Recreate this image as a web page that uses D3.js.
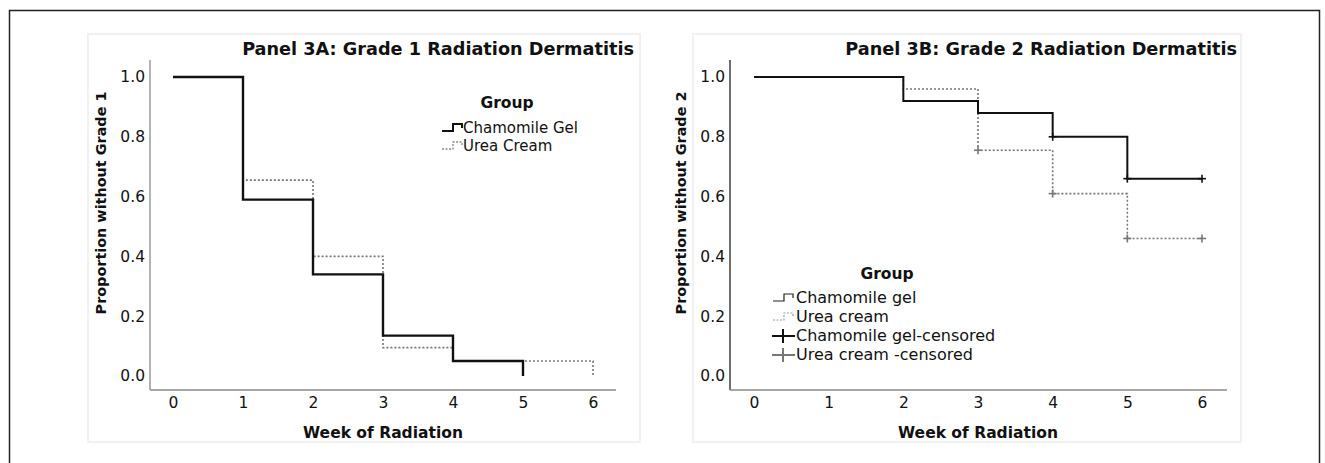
<!DOCTYPE html>
<html>
<head>
<meta charset="utf-8">
<script src="https://cdn.jsdelivr.net/npm/d3@7"></script>
<style>
  html, body { margin: 0; padding: 0; background: #fff; }
  svg { display: block; font-family: "DejaVu Sans", Verdana, sans-serif; }
</style>
</head>
<body>
<svg id="chart" width="1325" height="463"></svg>
<script>
// ---------- data ----------
const weekTicks = [0, 1, 2, 3, 4, 5, 6];
const propTicks = [0.0, 0.2, 0.4, 0.6, 0.8, 1.0];

// Panel 3A (Grade 1) - step curves: event times and survival after each time
const aChamTimes = [0, 1, 2, 3, 4, 5];
const aChamSurv  = [1.0, 0.59, 0.34, 0.135, 0.05, 0.0];
const aUreaTimes = [0, 1, 2, 3, 4, 6];
const aUreaSurv  = [1.0, 0.655, 0.40, 0.095, 0.05, 0.0];

// Panel 3B (Grade 2)
const bChamTimes = [0, 2, 3, 4, 5, 6];
const bChamSurv  = [1.0, 0.92, 0.88, 0.80, 0.66, 0.66];
const bChamCensor = [4, 5, 6];
const bUreaTimes = [0, 2, 3, 4, 5, 6];
const bUreaSurv  = [1.0, 0.96, 0.755, 0.61, 0.46, 0.46];
const bUreaCensor = [3, 4, 5, 6];

const titleA = "Panel 3A: Grade 1 Radiation Dermatitis";
const titleB = "Panel 3B: Grade 2 Radiation Dermatitis";
const yTitleA = "Proportion without Grade 1";
const yTitleB = "Proportion without Grade 2";
const xTitle = "Week of Radiation";
const legendTitle = "Group";
const legendA = ["Chamomile Gel", "Urea Cream"];
const legendB = ["Chamomile gel", "Urea cream", "Chamomile gel-censored", "Urea cream -censored"];

// ---------- drawing ----------
const svg = d3.select("#chart");
const FONT = "DejaVu Sans";

// outer frame
svg.append("rect").attr("x", 9.5).attr("y", 10.5).attr("width", 1310).attr("height", 520)
  .attr("fill", "none").attr("stroke", "#222").attr("stroke-width", 1.5);

function fit(sel, target) {
  const w = sel.node().getComputedTextLength();
  const fs = parseFloat(sel.attr("font-size"));
  sel.attr("font-size", (fs * target / w).toFixed(2));
  return sel;
}

function panel(cfg) {
  const g = svg.append("g");
  // panel background frame
  g.append("rect").attr("x", cfg.bg[0]).attr("y", 34).attr("width", cfg.bg[1] - cfg.bg[0]).attr("height", 408)
    .attr("fill", "#fff").attr("stroke", "#f1f1f1").attr("stroke-width", 2);

  const x = d3.scaleLinear().domain([0, 6]).range(cfg.xr);
  const y = d3.scaleLinear().domain([0, 1]).range([376, 77]);

  // axes lines
  g.append("line").attr("x1", cfg.axX).attr("x2", cfg.axX).attr("y1", 60).attr("y2", 390)
    .attr("stroke", cfg.yAxisColor).attr("stroke-width", 1.3);
  g.append("line").attr("x1", cfg.axX).attr("x2", cfg.axXEnd).attr("y1", 390).attr("y2", 390)
    .attr("stroke", "#8a8a8a").attr("stroke-width", 1.5);

  // y axis labels
  const ya = g.append("g").attr("transform", `translate(${cfg.axX},0)`)
    .call(d3.axisLeft(y).tickValues(propTicks).tickFormat(d3.format(".1f")).tickSize(0).tickPadding(5));
  ya.select(".domain").remove();
  ya.selectAll("text").attr("font-family", FONT).attr("font-size", 15.5).attr("fill", "#111");

  // x axis labels
  const xa = g.append("g").attr("transform", `translate(0,390)`)
    .call(d3.axisBottom(x).tickValues(weekTicks).tickFormat(d3.format("d")).tickSize(0).tickPadding(7));
  xa.select(".domain").remove();
  xa.selectAll("text").attr("font-family", FONT).attr("font-size", 15.5).attr("fill", "#111");

  // titles
  const t = g.append("text").attr("x", cfg.titleEnd).attr("y", 55).attr("text-anchor", "end")
    .attr("font-family", FONT).attr("font-weight", "bold").attr("font-size", 17).attr("fill", "#111")
    .text(cfg.title);
  fit(t, 392);

  const xt = g.append("text").attr("x", x(3)).attr("y", 438).attr("text-anchor", "middle")
    .attr("font-family", FONT).attr("font-weight", "bold").attr("font-size", 15).attr("fill", "#111")
    .text(xTitle);
  fit(xt, 160);

  const yt = g.append("text").attr("transform", `translate(${cfg.yTitleX},203) rotate(-90)`)
    .attr("text-anchor", "middle")
    .attr("font-family", FONT).attr("font-weight", "bold").attr("font-size", 15).attr("fill", "#111")
    .text(cfg.yTitle);
  fit(yt, 223);

  const line = d3.line().x(d => x(d[0])).y(d => y(d[1])).curve(d3.curveStepAfter);

  cfg.series.forEach(s => {
    const pts = s.times.map((tm, i) => [tm, s.surv[i]]);
    g.append("path").attr("d", line(pts)).attr("fill", "none")
      .attr("stroke", s.color).attr("stroke-width", s.width)
      .attr("stroke-dasharray", s.dash || null);
    if (s.censor) {
      s.censor.forEach(c => {
        let v = s.surv[0];
        s.times.forEach((tm, i) => { if (tm <= c) v = s.surv[i]; });
        const cx = x(c), cy = y(v);
        g.append("line").attr("x1", cx - 4).attr("x2", cx + 4).attr("y1", cy).attr("y2", cy)
          .attr("stroke", s.color).attr("stroke-width", 1.6);
        g.append("line").attr("x1", cx).attr("x2", cx).attr("y1", cy - 4).attr("y2", cy + 4)
          .attr("stroke", s.color).attr("stroke-width", 1.6);
      });
    }
  });
  return g;
}

panel({
  bg: [88, 640], xr: [173, 593], axX: 150, axXEnd: 616, yAxisColor: "#8a8a8a",
  title: titleA, titleEnd: 634, yTitle: yTitleA, yTitleX: 106,
  series: [
    { times: aUreaTimes, surv: aUreaSurv, color: "#777", width: 1.6, dash: "2,2" },
    { times: aChamTimes, surv: aChamSurv, color: "#111", width: 2.4 }
  ]
});

panel({
  bg: [693, 1241], xr: [754, 1202], axX: 730, axXEnd: 1227, yAxisColor: "#222",
  title: titleB, titleEnd: 1237, yTitle: yTitleB, yTitleX: 686,
  series: [
    { times: bUreaTimes, surv: bUreaSurv, color: "#777", width: 1.6, dash: "2,2", censor: bUreaCensor },
    { times: bChamTimes, surv: bChamSurv, color: "#111", width: 2, censor: bChamCensor }
  ]
});

// ---------- legends ----------
function stepSym(g, x0, yc, color, width, dash) {
  g.append("path")
    .attr("d", `M${x0},${yc + 3}H${x0 + 11}V${yc - 4}H${x0 + 20}V${yc}`)
    .attr("fill", "none").attr("stroke", color).attr("stroke-width", width)
    .attr("stroke-dasharray", dash || null);
}
function plusSym(g, x0, yc, color) {
  g.append("line").attr("x1", x0).attr("x2", x0 + 23).attr("y1", yc).attr("y2", yc)
    .attr("stroke", color).attr("stroke-width", 2);
  g.append("line").attr("x1", x0 + 11).attr("x2", x0 + 11).attr("y1", yc - 7).attr("y2", yc + 7)
    .attr("stroke", color).attr("stroke-width", 2);
}

// Legend A
const lA = svg.append("g");
lA.append("text").attr("x", 507).attr("y", 108).attr("text-anchor", "middle")
  .attr("font-family", FONT).attr("font-weight", "bold").attr("font-size", 15.5).attr("fill", "#111")
  .text(legendTitle);
legendA.forEach((name, i) => {
  const yc = 128 + i * 18;
  if (i === 0) stepSym(lA, 442, yc, "#111", 2);
  else stepSym(lA, 442, yc, "#888", 1.3, "2,1.5");
  lA.append("text").attr("x", 463).attr("y", yc + 5)
    .attr("font-family", FONT).attr("font-size", 15).attr("fill", "#111").text(name);
});

// Legend B
const lB = svg.append("g");
lB.append("text").attr("x", 887).attr("y", 279).attr("text-anchor", "middle")
  .attr("font-family", FONT).attr("font-weight", "bold").attr("font-size", 15.5).attr("fill", "#111")
  .text(legendTitle);
legendB.forEach((name, i) => {
  const yc = 298 + i * 19;
  if (i === 0) stepSym(lB, 773, yc, "#222", 1.2);
  else if (i === 1) stepSym(lB, 773, yc, "#999", 1.2, "2,1.5");
  else if (i === 2) plusSym(lB, 772, yc, "#111");
  else plusSym(lB, 772, yc, "#777");
  lB.append("text").attr("x", 796).attr("y", yc + 5)
    .attr("font-family", FONT).attr("font-size", 16).attr("fill", "#111").text(name);
});
</script>
</body>
</html>
